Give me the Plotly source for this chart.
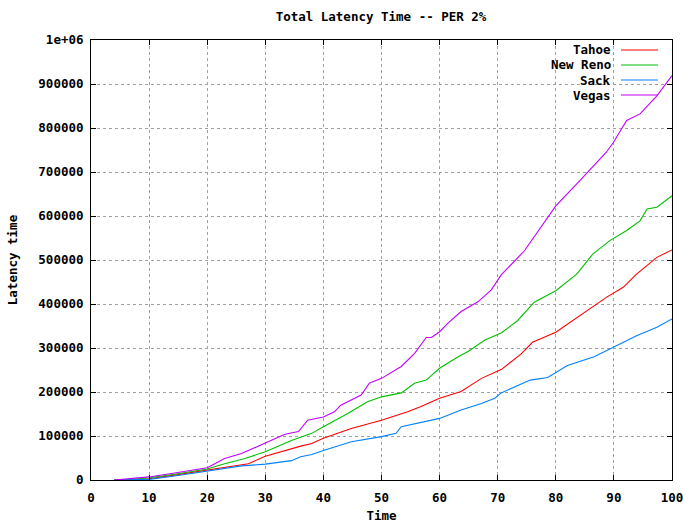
import plotly.graph_objects as go

# ---- data ----
tahoe_x = [4, 7, 10, 14.4, 20, 23, 27.1, 30, 34.5, 36.1, 38, 40, 44.8, 50, 54.5, 56.8, 60, 63.7, 67.2, 70.6,
           74, 76, 80, 84.1, 88.7, 91.6, 93.9, 97.4, 100]
tahoe_y = [0, 1000, 3000, 11000, 22000, 28000, 37000, 54000, 72000, 77000, 83000, 95000, 117000, 136000, 155000,
           167000, 186000, 201000, 231000, 251000, 286000, 313000, 336000, 373000, 415000, 438000, 468000, 506000, 523000]

newreno_x = [4, 7, 10, 14.4, 20, 23, 26.5, 30, 34.5, 36.1, 38, 40, 44.2, 47.6, 50, 53.4, 55.7, 57.7, 60, 63.2,
             64.9, 67.8, 70.6, 73.4, 76.3, 80, 83.6, 86.4, 89.3, 92.2, 94.5, 95.7, 97.4, 100]
newreno_y = [0, 1500, 5000, 13000, 25000, 37000, 49000, 64000, 90000, 97000, 106000, 121000, 151000, 178000,
             189000, 198000, 220000, 227000, 254000, 280000, 292000, 318000, 334000, 362000, 404000, 430000,
             468000, 514000, 544000, 567000, 589000, 616000, 620000, 646000]

sack_x = [4, 7, 10, 14.4, 20, 25.9, 30, 34.5, 36.1, 38, 40, 44.8, 50, 52.5, 53.4, 56.8, 60, 63.7, 67.2, 69.5,
          70.6, 75.6, 78.6, 82, 86.6, 89.9, 93.9, 97.4, 100]
sack_y = [0, 500, 1500, 9000, 21000, 32000, 36000, 44000, 53000, 58000, 67000, 87000, 98500, 106000, 121000,
          130000, 140000, 159000, 174000, 186000, 198000, 227000, 233000, 260000, 280000, 301500, 328000,
          347000, 366000]

vegas_x = [4, 7, 10, 14.4, 17.3, 20, 23, 25.9, 30, 33.4, 35.7, 37.3, 40, 41.9, 43, 46.5, 47.9, 50, 53.4, 55.7,
           57.7, 58.6, 60, 61.4, 63.7, 66.6, 68.9, 70.6, 74.6, 78.6, 80, 84.1, 88.7, 89.9, 92.2, 94.5, 97.4, 100]
vegas_y = [0, 3000, 7000, 16000, 22000, 28000, 49000, 60000, 84000, 104000, 110000, 136000, 143000, 155000,
           170000, 193000, 220000, 231000, 258000, 288000, 324000, 324000, 337000, 356000, 383000, 405000,
           432000, 466000, 521000, 597000, 623000, 680000, 745000, 767000, 817000, 832000, 873000, 919000]

names = ["Tahoe", "New Reno", "Sack", "Vegas"]
colors = ["#ff0000", "#00c000", "#0080ff", "#c000ff"]
series = [(tahoe_x, tahoe_y), (newreno_x, newreno_y), (sack_x, sack_y), (vegas_x, vegas_y)]

x_ticks = [0, 10, 20, 30, 40, 50, 60, 70, 80, 90, 100]
y_ticks = [0, 100000, 200000, 300000, 400000, 500000, 600000, 700000, 800000, 900000, 1000000]
y_tick_labels = ["0", "100000", "200000", "300000", "400000", "500000", "600000", "700000", "800000",
                 "900000", "1e+06"]

FONT = "DejaVu Sans Mono"
FS = 12.5

fig = go.Figure()
for (xs, ys), n, c in zip(series, names, colors):
    fig.add_trace(go.Scatter(x=xs, y=ys, mode="lines", name=n, line=dict(color=c, width=1.1),
                             showlegend=False))

axis_common = dict(showline=True, linecolor="black", linewidth=1, mirror="ticks", ticks="inside",
                   ticklen=5, tickcolor="black", showgrid=True, gridcolor="#a0a0a0", griddash="dot",
                   gridwidth=1, zeroline=False, automargin=False, ticklabeloverflow="allow",
                   tickfont=dict(family=FONT, size=FS, color="black"))

fig.update_xaxes(range=[0, 100], tickvals=x_ticks, ticktext=[f"<b>{v}</b>" for v in x_ticks],
                 ticklabelstandoff=6,
                 title=dict(text="<b>Time</b>", font=dict(family=FONT, size=FS, color="black"), standoff=7),
                 **axis_common)
fig.update_yaxes(range=[0, 1000000], tickvals=y_ticks, ticktext=[f"<b>{t}</b>" for t in y_tick_labels],
                 ticklabelstandoff=4,
                 title=dict(text="<b>Latency time</b>", font=dict(family=FONT, size=FS, color="black"),
                            standoff=17),
                 **axis_common)

# legend (gnuplot style: label right-aligned, sample line to the right)
L, R, T, B = 91, 672, 40, 480
W, H = R - L, B - T
def px(x):
    return (x - L) / W
def py(y):
    return (B - y) / H

shapes = [dict(type="rect", xref="paper", yref="paper", x0=px(552), x1=px(671), y0=py(101), y1=py(41),
               fillcolor="white", line=dict(width=0), layer="between")]
annotations = []
rows = [50, 65, 80, 95]
for n, c, yy in zip(names, colors, rows):
    annotations.append(dict(xref="paper", yref="paper", x=px(613), y=py(yy), text=f"<b>{n}</b>",
                            showarrow=False, xanchor="right", yanchor="middle",
                            font=dict(family=FONT, size=FS, color="black")))
    shapes.append(dict(type="line", xref="paper", yref="paper", x0=px(621), x1=px(658), y0=py(yy),
                       y1=py(yy), line=dict(color=c, width=1.1), layer="above"))

fig.update_layout(
    width=683, height=523,
    margin=dict(l=L, r=683 - R, t=T, b=523 - B, autoexpand=False),
    paper_bgcolor="white", plot_bgcolor="white",
    title=dict(text="<b>Total Latency Time -- PER 2%</b>", x=381 / 683, xanchor="center",
               y=1 - 17 / 523, yanchor="middle", font=dict(family=FONT, size=FS, color="black")),
    shapes=shapes, annotations=annotations,
)

fig.write_html("out.html")
